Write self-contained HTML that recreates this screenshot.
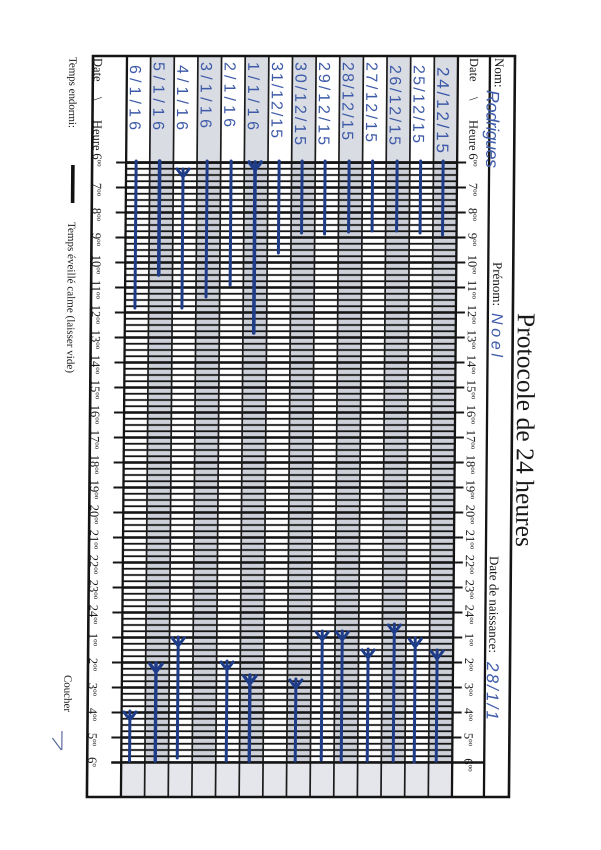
<!DOCTYPE html>
<html>
<head>
<meta charset="utf-8">
<style>
html,body{margin:0;padding:0;background:#fff;}
svg{display:block;}
</style>
</head>
<body>
<svg width="601" height="850" viewBox="0 0 601 850" xmlns="http://www.w3.org/2000/svg">
<defs>
<pattern id="g" patternUnits="userSpaceOnUse" x="0" y="160" width="601" height="25">
<rect x="0" y="1.2" width="601" height="2.6" fill="#141414"/>
<rect x="0" y="7.85" width="601" height="1.8" fill="#141414"/>
<rect x="0" y="14.1" width="601" height="1.8" fill="#141414"/>
<rect x="0" y="20.35" width="601" height="1.8" fill="#141414"/>
</pattern>
</defs>
<rect x="0" y="0" width="601" height="850" fill="#fff"/>
<g transform="matrix(1,0,-0.0082,1,0.46,0)" font-family="'Liberation Serif',serif" fill="#1a1a1a">

<!-- column fills -->
<g fill="#d9dce3">
<rect x="150.64" y="56" width="23.65" height="106.5"/>
<rect x="197.93" y="56" width="23.64" height="106.5"/>
<rect x="245.21" y="56" width="23.65" height="106.5"/>
<rect x="292.5" y="56" width="23.64" height="106.5"/>
<rect x="339.79" y="56" width="23.64" height="106.5"/>
<rect x="387.07" y="56" width="23.64" height="106.5"/>
<rect x="434.36" y="56" width="23.64" height="106.5"/>
</g>
<g fill="#cdd0d8">
<rect x="150.64" y="162.5" width="23.65" height="600"/>
<rect x="197.93" y="162.5" width="23.64" height="600"/>
<rect x="245.21" y="162.5" width="23.65" height="600"/>
<rect x="292.5" y="162.5" width="23.64" height="600"/>
<rect x="339.79" y="162.5" width="23.64" height="600"/>
<rect x="387.07" y="162.5" width="23.64" height="600"/>
<rect x="434.36" y="162.5" width="23.64" height="600"/>
</g>
<rect x="127" y="762.5" width="331" height="34.5" fill="#e4e6eb"/>

<!-- grid horizontal lines -->
<rect x="127" y="162.5" width="331" height="600" fill="url(#g)"/>

<!-- vertical column lines -->
<g stroke="#1c1c1c" stroke-width="1.7">
<line x1="150.64" y1="56" x2="150.64" y2="797"/>
<line x1="174.29" y1="56" x2="174.29" y2="797"/>
<line x1="197.93" y1="56" x2="197.93" y2="797"/>
<line x1="221.57" y1="56" x2="221.57" y2="797"/>
<line x1="245.21" y1="56" x2="245.21" y2="797"/>
<line x1="268.86" y1="56" x2="268.86" y2="797"/>
<line x1="292.5" y1="56" x2="292.5" y2="797"/>
<line x1="316.14" y1="56" x2="316.14" y2="797"/>
<line x1="339.79" y1="56" x2="339.79" y2="797"/>
<line x1="363.43" y1="56" x2="363.43" y2="797"/>
<line x1="387.07" y1="56" x2="387.07" y2="797"/>
<line x1="410.71" y1="56" x2="410.71" y2="797"/>
<line x1="434.36" y1="56" x2="434.36" y2="797"/>
</g>
<g stroke="#141414" stroke-width="2.3">
<line x1="127" y1="56" x2="127" y2="797"/>
<line x1="458" y1="56" x2="458" y2="797"/>
<line x1="490" y1="56" x2="490" y2="797"/>
</g>
<rect x="93" y="56" width="422" height="741" fill="none" stroke="#141414" stroke-width="2.6"/>
<line x1="127" y1="162.5" x2="458" y2="162.5" stroke="#141414" stroke-width="2.8"/>
<line x1="117" y1="762.5" x2="490" y2="762.5" stroke="#141414" stroke-width="2.6"/>

<!-- ticks -->
<path stroke="#141414" stroke-width="2" fill="none" d="M117,162.5h10M117,187.5h10M117,212.5h10M117,237.5h10M117,262.5h10M117,287.5h10M117,312.5h10M117,337.5h10M117,362.5h10M117,387.5h10M117,412.5h10M117,437.5h10M117,462.5h10M117,487.5h10M117,512.5h10M117,537.5h10M117,562.5h10M117,587.5h10M117,612.5h10M117,637.5h10M117,662.5h10M117,687.5h10M117,712.5h10M117,737.5h10
M458,162.5h9M458,187.5h9M458,212.5h9M458,237.5h9M458,262.5h9M458,287.5h9M458,312.5h9M458,337.5h9M458,362.5h9M458,387.5h9M458,412.5h9M458,437.5h9M458,462.5h9M458,487.5h9M458,512.5h9M458,537.5h9M458,562.5h9M458,587.5h9M458,612.5h9M458,637.5h9M458,662.5h9M458,687.5h9M458,712.5h9M458,737.5h9"/>

<!-- header labels -->
<g font-size="12.5">
<text transform="translate(94,58) rotate(90)">Date</text>
<text transform="translate(94,97) rotate(90)">\</text>
<text transform="translate(94,120) rotate(90)">Heure</text>
<text transform="translate(470,58) rotate(90)">Date</text>
<text transform="translate(470,97) rotate(90)">\</text>
<text transform="translate(470,120) rotate(90)">Heure</text>
</g>
<g font-size="12.5" text-anchor="middle">
<text transform="translate(94,160) rotate(90)">6<tspan font-size="7" dy="-4.5">oo</tspan></text>
<text transform="translate(94,189.5) rotate(90)">7<tspan font-size="7" dy="-4.5">oo</tspan></text>
<text transform="translate(94,214.5) rotate(90)">8<tspan font-size="7" dy="-4.5">oo</tspan></text>
<text transform="translate(94,239.5) rotate(90)">9<tspan font-size="7" dy="-4.5">oo</tspan></text>
<text transform="translate(94,264.5) rotate(90)">10<tspan font-size="7" dy="-4.5">oo</tspan></text>
<text transform="translate(94,289.5) rotate(90)">11<tspan font-size="7" dy="-4.5">oo</tspan></text>
<text transform="translate(94,314.5) rotate(90)">12<tspan font-size="7" dy="-4.5">oo</tspan></text>
<text transform="translate(94,339.5) rotate(90)">13<tspan font-size="7" dy="-4.5">oo</tspan></text>
<text transform="translate(94,364.5) rotate(90)">14<tspan font-size="7" dy="-4.5">oo</tspan></text>
<text transform="translate(94,389.5) rotate(90)">15<tspan font-size="7" dy="-4.5">oo</tspan></text>
<text transform="translate(94,414.5) rotate(90)">16<tspan font-size="7" dy="-4.5">oo</tspan></text>
<text transform="translate(94,439.5) rotate(90)">17<tspan font-size="7" dy="-4.5">oo</tspan></text>
<text transform="translate(94,464.5) rotate(90)">18<tspan font-size="7" dy="-4.5">oo</tspan></text>
<text transform="translate(94,489.5) rotate(90)">19<tspan font-size="7" dy="-4.5">oo</tspan></text>
<text transform="translate(94,514.5) rotate(90)">20<tspan font-size="7" dy="-4.5">oo</tspan></text>
<text transform="translate(94,539.5) rotate(90)">21<tspan font-size="7" dy="-4.5">oo</tspan></text>
<text transform="translate(94,564.5) rotate(90)">22<tspan font-size="7" dy="-4.5">oo</tspan></text>
<text transform="translate(94,589.5) rotate(90)">23<tspan font-size="7" dy="-4.5">oo</tspan></text>
<text transform="translate(94,614.5) rotate(90)">24<tspan font-size="7" dy="-4.5">oo</tspan></text>
<text transform="translate(94,639.5) rotate(90)">1<tspan font-size="7" dy="-4.5">oo</tspan></text>
<text transform="translate(94,664.5) rotate(90)">2<tspan font-size="7" dy="-4.5">oo</tspan></text>
<text transform="translate(94,689.5) rotate(90)">3<tspan font-size="7" dy="-4.5">oo</tspan></text>
<text transform="translate(94,714.5) rotate(90)">4<tspan font-size="7" dy="-4.5">oo</tspan></text>
<text transform="translate(94,739.5) rotate(90)">5<tspan font-size="7" dy="-4.5">oo</tspan></text>
<text transform="translate(94,762) rotate(90)">6<tspan font-size="7" dy="-4.5">o</tspan></text>

<text transform="translate(470,160) rotate(90)">6<tspan font-size="7" dy="-4.5">oo</tspan></text>
<text transform="translate(470,189.5) rotate(90)">7<tspan font-size="7" dy="-4.5">oo</tspan></text>
<text transform="translate(470,214.5) rotate(90)">8<tspan font-size="7" dy="-4.5">oo</tspan></text>
<text transform="translate(470,239.5) rotate(90)">9<tspan font-size="7" dy="-4.5">oo</tspan></text>
<text transform="translate(470,264.5) rotate(90)">10<tspan font-size="7" dy="-4.5">oo</tspan></text>
<text transform="translate(470,289.5) rotate(90)">11<tspan font-size="7" dy="-4.5">oo</tspan></text>
<text transform="translate(470,314.5) rotate(90)">12<tspan font-size="7" dy="-4.5">oo</tspan></text>
<text transform="translate(470,339.5) rotate(90)">13<tspan font-size="7" dy="-4.5">oo</tspan></text>
<text transform="translate(470,364.5) rotate(90)">14<tspan font-size="7" dy="-4.5">oo</tspan></text>
<text transform="translate(470,389.5) rotate(90)">15<tspan font-size="7" dy="-4.5">oo</tspan></text>
<text transform="translate(470,414.5) rotate(90)">16<tspan font-size="7" dy="-4.5">oo</tspan></text>
<text transform="translate(470,439.5) rotate(90)">17<tspan font-size="7" dy="-4.5">oo</tspan></text>
<text transform="translate(470,464.5) rotate(90)">18<tspan font-size="7" dy="-4.5">oo</tspan></text>
<text transform="translate(470,489.5) rotate(90)">19<tspan font-size="7" dy="-4.5">oo</tspan></text>
<text transform="translate(470,514.5) rotate(90)">20<tspan font-size="7" dy="-4.5">oo</tspan></text>
<text transform="translate(470,539.5) rotate(90)">21<tspan font-size="7" dy="-4.5">oo</tspan></text>
<text transform="translate(470,564.5) rotate(90)">22<tspan font-size="7" dy="-4.5">oo</tspan></text>
<text transform="translate(470,589.5) rotate(90)">23<tspan font-size="7" dy="-4.5">oo</tspan></text>
<text transform="translate(470,614.5) rotate(90)">24<tspan font-size="7" dy="-4.5">oo</tspan></text>
<text transform="translate(470,639.5) rotate(90)">1<tspan font-size="7" dy="-4.5">oo</tspan></text>
<text transform="translate(470,664.5) rotate(90)">2<tspan font-size="7" dy="-4.5">oo</tspan></text>
<text transform="translate(470,689.5) rotate(90)">3<tspan font-size="7" dy="-4.5">oo</tspan></text>
<text transform="translate(470,714.5) rotate(90)">4<tspan font-size="7" dy="-4.5">oo</tspan></text>
<text transform="translate(470,739.5) rotate(90)">5<tspan font-size="7" dy="-4.5">oo</tspan></text>
<text transform="translate(470,765) rotate(90)">6<tspan font-size="7" dy="-4.5">oo</tspan></text>
</g>

<!-- Nom row labels -->
<g font-size="13">
<text transform="translate(495,58) rotate(90)">Nom:</text>
<text transform="translate(495,262) rotate(90)">Prénom:</text>
<text transform="translate(494,556) rotate(90)" textLength="97">Date de naissance:</text>
</g>

<!-- title -->
<text transform="translate(520,313) rotate(90)" font-size="25.5" textLength="234">Protocole de 24 heures</text>

<!-- left notes -->
<g font-size="11">
<text transform="translate(69.5,57) rotate(90)" textLength="71">Temps endormi:</text>
<text transform="translate(69.5,222) rotate(90)" textLength="151">Temps éveillé calme (laisser vide)</text>
<text transform="translate(69.5,675) rotate(90)" textLength="37">Coucher</text>
</g>
<rect x="72" y="165" width="3.6" height="38" fill="#111"/>
<path d="M67.5,731 L67.5,750 M58,738 L67,750" stroke="#5a6a9c" stroke-width="1.2" fill="none"/>

<!-- handwriting -->
<g font-family="'Liberation Sans',sans-serif" fill="#3d5aa8" font-size="16">
<text transform="translate(487,90) rotate(90)" font-size="18" font-style="italic" textLength="78">Rodrigues</text>
<text transform="translate(494,313) rotate(90)" font-size="16" font-style="italic" textLength="44">Noel</text>
<text transform="translate(492,662) rotate(90)" font-size="17" font-style="italic" textLength="58">28/1/1</text>

<text transform="translate(437.5,67) rotate(90)" font-size="17" textLength="86">24/12/15</text>
<text transform="translate(413.8,65) rotate(90)" textLength="78">25/12/15</text>
<text transform="translate(390.2,65) rotate(90)" textLength="80">26/12/15</text>
<text transform="translate(366.5,62) rotate(90)" textLength="80">27/12/15</text>
<text transform="translate(342.9,62) rotate(90)" textLength="78">28/12/15</text>
<text transform="translate(319.2,62) rotate(90)" textLength="83">29/12/15</text>
<text transform="translate(295.6,62) rotate(90)" textLength="83">30/12/15</text>
<text transform="translate(272,62) rotate(90)" textLength="76">31/12/15</text>
<text transform="translate(248.3,62) rotate(90)" textLength="68">1/1/16</text>
<text transform="translate(224.7,62) rotate(90)" textLength="65">2/1/16</text>
<text transform="translate(201,62) rotate(90)" textLength="66">3/1/16</text>
<text transform="translate(177.4,65) rotate(90)" textLength="65">4/1/16</text>
<text transform="translate(153.7,62) rotate(90)" textLength="68">5/1/16</text>
<text transform="translate(130.1,65) rotate(90)" textLength="65">6/1/16</text>
</g>

<!-- pen sleep lines -->
<g stroke="#1f3c88" stroke-width="3" stroke-linecap="round" fill="none">
<path d="M137,161V308"/>
<path d="M160.5,161V275" stroke-width="3.6"/>
<path d="M184,169V308M178,169L184,177M190,169L184,177"/>
<path d="M208,161V297"/>
<path d="M232,161V285"/>
<path d="M256,162V333M250,162L256,170M262,162L256,170" stroke-width="3.6"/>
<path d="M280,161V253"/>
<path d="M303,161V233"/>
<path d="M326,161V234"/>
<path d="M350,161V232"/>
<path d="M373.5,161V231"/>
<path d="M398,161V231"/>
<path d="M421.5,161V233"/>
<path d="M444,161V235"/>

<path d="M135.3,711V761M129.3,712L135.3,720M141.3,712L135.3,720"/>
<path d="M161,663V761M155,664L161,672M167,664L161,672" stroke-width="3.4"/>
<path d="M183,637V758M177,638L183,646M189,638L183,646"/>
<path d="M232,661V761M226,662L232,670M238,662L232,670"/>
<path d="M255,675V761M249,676L255,684M261,676L255,684" stroke-width="3.4"/>
<path d="M301,679V761M295,680L301,688M307,680L301,688"/>
<path d="M327,631V760M321,632L327,640M333,632L327,640"/>
<path d="M347,631V761M341,632L347,640M353,632L347,640"/>
<path d="M373,649V761M367,650L373,658M379,650L373,658"/>
<path d="M399,624V761M393,625L399,633M405,625L399,633"/>
<path d="M420,638V762M414,639L420,647M426,639L420,647"/>
<path d="M442,650V761M436,651L442,659M448,651L442,659"/>
</g>
</g>
</svg>
</body>
</html>
